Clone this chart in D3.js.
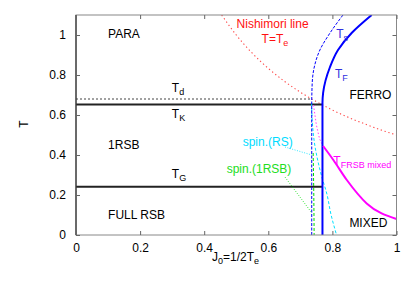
<!DOCTYPE html>
<html><head><meta charset="utf-8">
<script src="https://cdn.jsdelivr.net/npm/d3@7"></script>
<style>body{margin:0;background:#fff}svg{display:block;font-family:"Liberation Sans",Arial,Helvetica,sans-serif}</style>
</head><body><svg id="c" width="411" height="288"></svg>
<script>
// ---- data (J0, T) ----
const xTicks = [0, 0.2, 0.4, 0.6, 0.8, 1];
const yTicks = [0, 0.2, 0.4, 0.6, 0.8, 1];
const nishimori = [[0.4545,1.1],[0.5,1.0],[0.55,0.909],[0.6,0.833],[0.65,0.769],[0.7,0.714],[0.75,0.667],[0.8,0.625],[0.85,0.588],[0.9,0.556],[0.95,0.526],[1.0,0.5]];
const Td = [[0,0.68],[0.7355,0.68]];
const TK = [[0,0.653],[0.769,0.653]];
const TG = [[0,0.2415],[0.769,0.2415]];
const TF = [[0.769,0],[0.769,0.66],[0.771,0.71],[0.7925,0.84],[0.8175,0.925],[0.86,1.01],[0.9226,1.1]];
const Ts = [[0.7355,0],[0.7355,0.65],[0.737,0.76],[0.7435,0.84],[0.761,0.925],[0.7925,1.01],[0.833,1.1]];
const TFRSB = [[0.771,0.445],[0.803,0.375],[0.845,0.275],[0.907,0.158],[1.0,0.08]];
const TFRSBunst = [[0.741,0.65],[0.75,0.55],[0.76,0.48],[0.771,0.445]];
const spinRS = [[0.735,0.66],[0.738,0.55],[0.745,0.45],[0.754,0.375],[0.767,0.29],[0.782,0.21],[0.796,0.1],[0.813,0]];
const spin1RSB = [[0.740,0.41],[0.742,0.2],[0.743,0]];
const ptrRS = [[0.652,0.44],[0.736,0.40]];
const ptr1RSB = [[0.652,0.29],[0.736,0.11]];

const svg = d3.select("#c");
const W = 411, H = 288;
const x = d3.scaleLinear().domain([0,1]).range([76, 396.5]);
const y = d3.scaleLinear().domain([0,1.1]).range([235, 15]);

svg.append("rect").attr("width",W).attr("height",H).attr("fill","#fff");

svg.append("clipPath").attr("id","pc").append("rect")
  .attr("x",x(0)).attr("y",y(1.1)).attr("width",x(1)-x(0)).attr("height",y(0)-y(1.1));

const g = svg.append("g").attr("clip-path","url(#pc)");
const line = d3.line().x(d=>x(d[0])).y(d=>y(d[1]));
const lineMY = d3.line().x(d=>x(d[0])).y(d=>y(d[1])).curve(d3.curveMonotoneY);
const lineMX = d3.line().x(d=>x(d[0])).y(d=>y(d[1])).curve(d3.curveMonotoneX);

function path(data, gen, stroke, w, dash){
  const p = g.append("path").attr("d", gen(data)).attr("fill","none")
    .attr("stroke",stroke).attr("stroke-width",w);
  if (dash) p.attr("stroke-dasharray",dash);
  return p;
}
path(nishimori, lineMX, "#ff4a4a", 1.1, "1.3,2.7");
path(Td, line, "#444", 1, "2,2");
path(TK, line, "#222", 2);
path(TG, line, "#222", 2);
path(spinRS, lineMY, "#00e0ff", 1, "3,2");
path(spin1RSB, line, "#00dd00", 1, "3,2");
path(TFRSBunst, line, "#ff40ff", 1, "1.5,2");
path(Ts, lineMY, "#0000ff", 1, "3,1.5");
path(TF, lineMY, "#0000ff", 2);
path(TFRSB, lineMX, "#ff00ff", 2);
path(ptrRS, line, "#00e0ff", 0.8, "1,1.5");
path(ptr1RSB, line, "#00dd00", 0.8, "1,1.5");

// frame
svg.append("rect").attr("x",x(0)).attr("y",y(1.1)).attr("width",x(1)-x(0)).attr("height",y(0)-y(1.1))
  .attr("fill","none").attr("stroke","#888").attr("stroke-width",1);
svg.append("line").attr("x1",x(0)).attr("x2",x(0)).attr("y1",y(0)).attr("y2",y(1.1)).attr("stroke","#111").attr("stroke-width",1);

// axes
function styleAxis(sel){ sel.select(".domain").remove(); sel.selectAll("line").attr("stroke","#666");
  sel.selectAll("text").attr("font-size",12).attr("fill","#000").attr("font-family","Liberation Sans, Arial, sans-serif"); }
const fmt = d => d===0?"0":d===1?"1":d3.format(".1f")(d);
svg.append("g").attr("transform",`translate(0,${y(0)})`)
  .call(d3.axisBottom(x).tickValues(xTicks).tickFormat(fmt).tickSizeInner(-4).tickSizeOuter(0).tickPadding(8))
  .call(styleAxis);
svg.append("g").attr("transform",`translate(0,${y(1.1)})`)
  .call(d3.axisTop(x).tickValues(xTicks).tickFormat("").tickSizeInner(-4).tickSizeOuter(0))
  .call(styleAxis);
svg.append("g").attr("transform",`translate(${x(0)},0)`)
  .call(d3.axisLeft(y).tickValues(yTicks).tickFormat(fmt).tickSizeInner(-4).tickSizeOuter(0).tickPadding(10))
  .call(styleAxis);
svg.append("g").attr("transform",`translate(${x(1)},0)`)
  .call(d3.axisRight(y).tickValues(yTicks).tickFormat("").tickSizeInner(-4).tickSizeOuter(0))
  .call(styleAxis);

// labels
function label(jx, ty, main, sub, color){
  const t = svg.append("text").attr("x",x(jx)).attr("y",y(ty)).attr("font-size",12).attr("fill",color||"#000");
  t.append("tspan").text(main);
  if (sub) t.append("tspan").attr("dy",3).attr("font-size",9).text(sub);
  return t;
}
label(0.1, 0.987, "PARA");
label(0.1, 0.43, "1RSB");
label(0.1, 0.08, "FULL RSB");
label(0.501, 1.034, "Nishimori line", null, "#ff1010");
label(0.579, 0.96, "T=T", "e", "#ff1010");
label(0.299, 0.717, "T", "d");
label(0.299, 0.584, "T", "K");
label(0.299, 0.284, "T", "G");
label(0.812, 0.984, "T", "s", "#3030e0");
label(0.808, 0.784, "T", "F", "#3030e0");
label(0.853, 0.68, "FERRO");
label(0.803, 0.35, "T", "FRSB mixed", "#ff00ff");
label(0.853, 0.04, "MIXED");
label(0.52, 0.445, "spin.(RS)", null, "#00dcff");
label(0.47, 0.308, "spin.(1RSB)", null, "#22dd22");

// axis titles
const xt = svg.append("text").attr("x",212).attr("y",261).attr("font-size",12).attr("fill","#000");
xt.append("tspan").text("J");
xt.append("tspan").attr("dy",3).attr("font-size",9).text("0");
xt.append("tspan").attr("dy",-3).text("=1/2T");
xt.append("tspan").attr("dy",3).attr("font-size",9).text("e");
svg.append("text").attr("transform","translate(28,124) rotate(-90)").attr("text-anchor","middle")
  .attr("font-size",12).attr("fill","#000").text("T");
</script></body></html>
